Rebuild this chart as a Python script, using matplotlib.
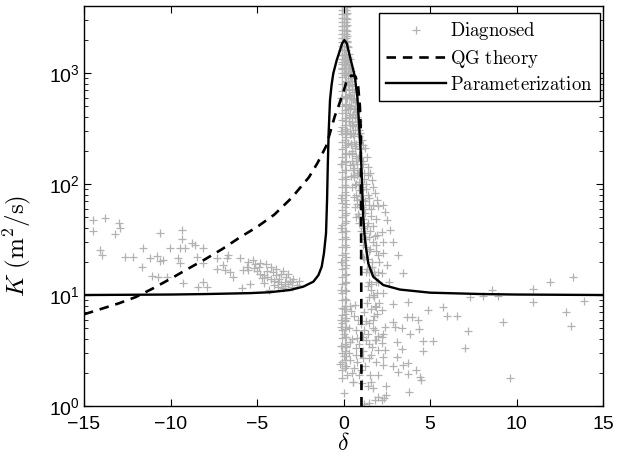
import numpy as np
import matplotlib.pyplot as plt

plt.rcParams['font.family'] = ['Liberation Sans', 'DejaVu Sans']
plt.rcParams['mathtext.fontset'] = 'cm'

# Parameterization curve
param_delta = [-15, -10, -8, -5.4, -4.25, -3.09, -2.32, -1.74, -1.45, -1.26,
               -1.13, -1.01, -0.95, -0.91, -0.86, -0.78, -0.69, -0.59, -0.39, -0.2,
               -0.08, 0.05, 0.19, 0.28, 0.47, 0.66, 0.72, 0.8, 0.91, 0.99,
               1.05, 1.14, 1.24, 1.43, 1.72, 2.3, 3.26, 5.0, 8, 10, 15]
param_K = [10.0, 10.1, 10.2, 10.4, 10.6, 11.1, 11.9, 13.2, 15.1, 18,
           23.8, 36, 72, 143, 286, 571, 780, 993, 1310, 1610,
           1850, 1980, 1850, 1610, 1222, 927, 764, 612, 328, 202,
           125, 50.7, 31.3, 19.3, 14.6, 12.3, 11.2, 10.5, 10.2, 10.1, 10.0]

# QG theory curve
qg_delta = [-15, -13, -12, -11, -10, -9, -8, -7, -6, -5, -4, -3, -2, -1.5,
            -1, -0.5, -0.3, 0, 0.2, 0.45, 0.7, 0.85, 0.95, 1.0, 1.01, 1.02,
            1.03, 1.04]
qg_K = [6.7, 8.4, 9.6, 11.5, 14, 17.2, 21, 26, 33, 41, 53, 75, 115, 155,
        220, 410, 497, 680, 870, 950, 930, 750, 497, 300, 100, 30, 8, 1]

# Diagnosed values, grouped by region of the plot
left_delta = [-14.46, -13.79, -14.46, -12.96, -12.92, -13.21, -14.07, -13.98, -12.63, -12.15,
              -11.57, -11.67, -11.18, -10.80, -11.09, -10.61, -10.71, -10.42, -10.23, -10.61,
              -10.03, -9.45, -9.55, -9.35, -9.35, -9.45, -9.16, -9.26, -8.77, -8.58,
              -8.49, -8.10, -8.10, -8.39, -7.91, -8.10, -7.33, -7.33, -6.95, -6.85,
              -6.75, -6.66, -6.56, -6.37, -5.88, -5.98, -5.79, -5.50, -5.21, -5.60]
left_K = [47.4, 49.7, 37.7, 44.8, 40.4, 35.2, 25.4, 22.9, 22.1, 22.1,
          26.3, 17.8, 21.4, 22.4, 14.8, 20.2, 14.6, 20.7, 14.6, 35.9,
          26.3, 19.3, 21.4, 38.5, 31.7, 26.7, 26.7, 12.7, 29.6, 28.2,
          21.9, 26.3, 19.5, 11.9, 11.9, 13.2, 21.4, 17.0, 18.6, 16.8,
          21.4, 22.9, 16.2, 14.4, 11.5, 21.4, 16.8, 16.8, 20.7, 18.0]

tail_delta = [-5.2, -5.0, -4.8, -4.6, -4.4, -4.2, -4.0, -3.8, -3.6, -3.4,
              -3.2, -3.0, -2.9, -4.8, -4.5, -4.2, -3.9, -3.6, -3.3, -3.1,
              -5.5, -4.0, -3.5, -3.8, -5.4, -4.1, -3.7, -3.0, -4.6, -3.5,
              -3.2, -4.3, -5.1, -4.9, -4.4, -3.9, -3.4, -2.7, -2.6, -4.7]
tail_K = [17.5, 16.5, 15.5, 15.0, 14.5, 14.0, 13.5, 13.0, 12.5, 12.0,
          12.5, 13.0, 14.0, 19.5, 19.0, 18.0, 17.0, 15.5, 14.5, 13.5,
          20.0, 12.2, 11.5, 11.8, 12.5, 16.0, 14.0, 11.8, 12.8, 16.5,
          15.5, 11.2, 19.0, 18.0, 16.5, 15.0, 13.2, 12.4, 13.5, 14.2]

# near-vertical column at delta ~ 0 (one delta per column)
top_levels = [4000, 3700, 3400, 3150, 2900, 2650, 2450, 2250, 2050, 1900,
              1750, 1600, 1450, 1330, 1200, 1100, 1000]
col_delta = [-0.06, 0.04, 0.14, 0.22, -0.06, 0.06, 0.17, -0.14]
col_K = [
    top_levels,
    top_levels,
    top_levels,
    [3900, 3450, 3050, 2700, 2400, 2150, 1950],
    [1450, 1250, 1080, 930, 800, 690, 590, 510, 440, 380, 325, 280, 240, 205,
     175, 150, 128, 110, 94, 80, 68, 58, 50, 43, 37, 32, 27, 23, 20, 17, 14.5,
     12.5, 10.5, 9, 7.7, 6.6, 5.6, 4.8, 4.1, 3.5, 3.0, 2.5, 2.1, 1.8],
    [1500, 1300, 1120, 960, 830, 720, 620, 530, 460, 395, 340, 290, 250, 215,
     185, 158, 135, 115, 98, 84, 72, 62, 53, 45, 38, 33, 28, 24, 20.5, 17.5,
     15, 12.8, 11, 9.3, 8, 6.8, 5.8, 4.9, 4.2, 3.6, 3.1, 2.6, 2.2],
    [1400, 1180, 1000, 850, 720, 610, 520, 440, 370, 315, 265, 225, 190, 160,
     135, 112, 94, 79, 66, 55, 46, 38, 32, 27, 22, 18.5, 15.5, 13, 10.8, 9,
     7.5, 6.2, 5.1, 4.2, 3.4, 2.8, 2.3],
    [600, 300, 150, 75, 40, 20, 11, 6, 3.5],
]

# strands fanning out to the right of the column
fan_delta = [
    [0.22, 0.3, 0.38, 0.47, 0.57, 0.66, 0.76, 0.86, 0.95, 1.05, 1.15, 1.24, 1.34,
     1.43, 1.53, 1.62, 1.72, 1.82, 1.92, 2.0],
    [0.28, 0.35, 0.42, 0.5, 0.58, 0.66, 0.74, 0.82, 0.9],
    [0.3, 0.4, 0.5, 0.6, 0.7, 0.8, 0.9, 1.0, 1.1, 1.2, 1.3, 1.4, 1.5, 1.6, 1.7,
     1.8, 1.9, 2.0],
    [0.25, 0.32, 0.4, 0.48, 0.56, 0.64, 0.72, 0.8, 0.88, 0.96, 1.04],
    [0.25, 0.35, 0.45, 0.55, 0.65, 0.75, 0.85, 0.95, 1.05, 1.15, 1.25, 1.35,
     1.45, 1.55, 1.65, 1.75, 1.85],
    [0.3, 0.4, 0.5, 0.6, 0.7, 0.8, 0.9, 1.0, 1.1, 1.2, 1.3, 1.4, 1.5, 1.6, 1.7, 1.8],
    [0.3, 0.4, 0.5, 0.6, 0.7, 0.8, 0.9, 1.0, 1.1, 1.2, 1.3, 1.4, 1.5, 1.6, 1.7,
     1.8, 1.9, 2.0],
    [0.2, 0.27, 0.34, 0.41, 0.48, 0.55, 0.62, 0.69, 0.76, 0.83, 0.9, 0.97],
    [0.18, 0.24, 0.3, 0.36, 0.42, 0.48, 0.54, 0.6, 0.66, 0.72, 0.78, 0.84, 0.9,
     0.96, 1.02, 1.08],
    [0.2, 0.26, 0.32, 0.38, 0.44, 0.5, 0.56, 0.62, 0.68, 0.74, 0.8, 0.86, 0.92],
    [0.22, 0.28, 0.34, 0.4, 0.46, 0.52, 0.58, 0.64, 0.7],
    [0.25, 0.28, 0.31, 0.34, 0.37, 0.4, 0.43, 0.46, 0.49, 0.52, 0.55, 0.58],
]
fan_K = [
    [1900, 1350, 990, 760, 575, 480, 405, 340, 287, 250, 225, 210, 175, 143,
     125, 108, 95, 83, 72, 63],
    [1700, 1350, 1050, 850, 680, 550, 450, 370, 310],
    [1500, 1100, 800, 600, 450, 350, 270, 210, 160, 125, 100, 80, 65, 52, 42,
     34, 28, 23],
    [900, 650, 480, 360, 280, 210, 160, 125, 98, 78, 62],
    [1200, 850, 600, 430, 310, 230, 170, 125, 95, 72, 55, 42, 33, 26, 20, 16, 13],
    [700, 480, 340, 240, 170, 120, 88, 65, 48, 36, 27, 21, 16, 12.5, 10, 8],
    [400, 280, 200, 140, 100, 72, 52, 38, 28, 21, 16, 12, 9.5, 7.5, 6, 4.8, 3.9, 3.2],
    [1750, 1400, 1120, 900, 720, 580, 470, 390, 330, 280, 240, 205],
    [1300, 1000, 780, 620, 500, 400, 330, 270, 220, 180, 150, 125, 105, 88, 74, 62],
    [600, 470, 370, 290, 230, 185, 150, 120, 98, 80, 66, 54, 45],
    [300, 235, 185, 148, 118, 95, 77, 62, 50],
    [1000, 800, 640, 520, 420, 340, 280, 230, 190, 160, 135, 115],
]

mid_delta = [1.1, 1.2, 1.3, 1.45, 1.6, 1.2, 1.4, 1.55, 1.7, 1.9,
             2.05, 1.3, 1.5, 1.65, 1.8, 2.0, 1.15, 1.35, 1.5, 1.6,
             1.75, 1.95, 2.05, 1.25, 1.85, 1.7, 1.4, 1.1, 1.95, 2.0]
mid_K = [150, 110, 90, 75, 60, 60, 45, 38, 30, 25,
         20, 32, 25, 18, 15, 13, 22, 17, 13, 11,
         9.5, 10.5, 8.5, 70, 48, 65, 120, 40, 35, 16]

low_delta = [0.0, 0.1, 0.05, 0.15, 0.0, 0.1, 0.2, 0.3, 0.4, 0.35, 0.5, 0.55,
             0.6, 0.7, 0.75, 0.8, 0.9, 1.0, 1.1, 1.15, 1.2, 1.3, 1.25, 1.4,
             1.5, 1.45, 1.6, 1.55, 1.7, 1.8, 1.9, 2.0, 1.75, 1.85, 2.0, -0.15,
             -0.2, 0.45, 0.65, 0.85, 1.05, 1.35, 1.65, 1.95,
             1.39, 1.6, 1.7, 2.02, 2.33, 2.43, 2.22, 1.81, 1.49, 1.18, 2.43,
             3.79, 0.03, 0.55, 4.5,
             0.3, 0.5, 0.7, 0.9, 1.1, 1.3, 0.4, 0.6, 0.8, 1.0, 1.2, 1.5]
low_K = [7.5, 6.0, 4.5, 3.5, 2.8, 2.3, 1.9, 5.0, 3.8, 2.6, 2.0, 1.65,
         6.5, 4.8, 3.3, 2.5, 1.9, 5.5, 4.2, 3.1, 7.0, 5.8, 2.3, 4.5,
         3.6, 2.7, 2.9, 1.9, 5.0, 3.9, 2.5, 4.3, 6.5, 7.8, 1.9, 5.2,
         2.4, 7.2, 8.2, 6.0, 1.6, 8.5, 3.4, 6.8,
         1.53, 1.65, 1.45, 1.2, 1.18, 1.25, 1.13, 1.13, 1.07, 1.05, 1.53,
         1.35, 1.32, 1.65, 1.7,
         3.0, 4.0, 2.9, 3.6, 2.7, 3.9, 8.0, 2.2, 4.1, 2.1, 4.8, 5.6]

right_delta = [2.3, 2.4, 2.5, 2.2, 2.69, 2.3, 2.88, 2.3, 3.17, 2.5,
               2.2, 3.42, 2.65, 2.3, 3.75, 2.84, 2.2, 4.9, 5.77, 5.96,
               6.54, 7.31, 8.08, 8.57, 8.95, 10.94, 10.94, 11.94, 13.25, 13.9,
               12.86, 13.13, 9.24, 7.21, 7.02, 9.62, 5.19, 4.61, 4.61, 4.38,
               3.84, 3.65, 3.98, 4.29, 3.36, 2.98, 2.88, 3.07, 3.36, 3.07,
               3.75, 3.46, 4.19, 3.17, 3.75, 4.42, 2.3, 2.84, 2.2, 2.4,
               2.3, 2.4, 2.3, 2.2]
right_K = [65, 56, 47.5, 37, 38.5, 30, 30, 24, 23, 18.6,
           15.7, 15.7, 13.2, 10.4, 8.7, 8.3, 7.3, 7.4, 7.8, 6.5,
           6.5, 9.5, 9.7, 11.1, 9.7, 11.3, 8.6, 13.2, 14.4, 8.8,
           7.0, 5.25, 5.7, 4.76, 3.3, 1.78, 3.87, 3.87, 3.1, 4.9,
           4.45, 6.4, 6.3, 5.9, 5.0, 5.1, 5.75, 3.8, 3.26, 2.75,
           2.45, 2.34, 2.1, 2.04, 1.94, 1.81, 2.34, 2.29, 3.66, 3.2,
           2.78, 5.2, 4.5, 4.2]

# gather the diagnosed points
diag_d = list(left_delta) + list(tail_delta)
diag_K = list(left_K) + list(tail_K)
for d, ks in zip(col_delta, col_K):
    diag_d += [d] * len(ks)
    diag_K += ks
for ds, ks in zip(fan_delta, fan_K):
    diag_d += ds
    diag_K += ks
diag_d += mid_delta + low_delta + right_delta
diag_K += mid_K + low_K + right_K

fig = plt.figure(figsize=(6.27, 4.57), dpi=100)
ax = fig.add_axes([84 / 627, 1 - 406 / 457, 519 / 627, 400 / 457])

ax.plot(diag_d, diag_K, '+', color='#b2b2b2', ms=5.5, mew=0.9, zorder=1,
        label=r'$\mathrm{Diagnosed}$')
ax.plot(qg_delta, qg_K, color='k', lw=1.9, ls=(0, (3.6, 2.6)), zorder=3,
        label=r'$\mathrm{QG\ theory}$')
ax.plot(param_delta, param_K, color='k', lw=1.7, zorder=4,
        label=r'$\mathrm{Parameterization}$')

ax.set_yscale('log')
ax.set_xlim(-15, 15)
ax.set_ylim(1, 4020)
ax.set_xticks([-15, -10, -5, 0, 5, 10, 15])
ax.tick_params(which='both', direction='in', top=True, right=True, labelsize=14)
ax.tick_params(which='major', length=5, width=0.8)
ax.tick_params(which='minor', length=3, width=0.6)
ax.tick_params(axis='x', pad=7)
ax.tick_params(axis='y', pad=3)
for s in ax.spines.values():
    s.set_linewidth(1.0)

ax.set_xlabel(r'$\delta$', fontsize=17, labelpad=0)
ax.set_ylabel(r'$K\ (\mathrm{m}^2/\mathrm{s})$', fontsize=18)
ax.yaxis.set_label_coords(-0.098, 0.40)

leg = ax.legend(loc='upper right', bbox_to_anchor=(0.994, 0.983), borderaxespad=0,
                fancybox=False, framealpha=1, edgecolor='k', fontsize=13.5,
                handlelength=3.2, handletextpad=0.2, labelspacing=0.3,
                borderpad=0.4)
leg.get_frame().set_linewidth(1.0)

fig.savefig('out.png', dpi=100)
